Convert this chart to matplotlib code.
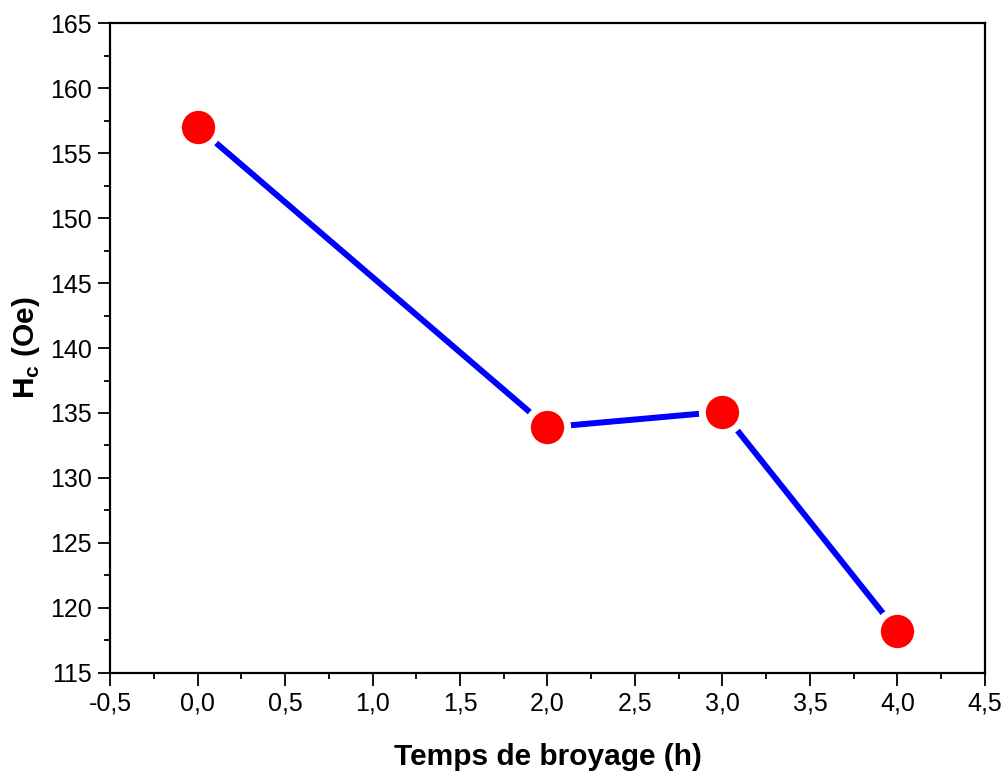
import numpy as np
import matplotlib.pyplot as plt
from matplotlib.ticker import MultipleLocator, FuncFormatter

plt.rcParams['font.family'] = ['Liberation Sans', 'DejaVu Sans']
plt.rcParams['mathtext.fontset'] = 'custom'
plt.rcParams['mathtext.bf'] = 'Liberation Sans:bold'
plt.rcParams['mathtext.rm'] = 'Liberation Sans'

temps = [0.0, 2.0, 3.0, 4.0]      # h
hc = [157.0, 133.9, 135.1, 118.2]  # Oe

fig = plt.figure(figsize=(10.03, 7.73), dpi=100)
ax = fig.add_axes([0.1097, 0.1294, 0.8723, 0.8408])

ax.plot(temps, hc, color='#0000ff', lw=4.3, marker='o', ms=29,
        mfc='#ff0000', mec='white', mew=5, zorder=3, clip_on=False)

ax.set_xlim(-0.5, 4.5)
ax.set_ylim(115, 165)
ax.xaxis.set_major_locator(MultipleLocator(0.5))
ax.xaxis.set_minor_locator(MultipleLocator(0.25))
ax.yaxis.set_major_locator(MultipleLocator(5))
ax.yaxis.set_minor_locator(MultipleLocator(2.5))
ax.xaxis.set_major_formatter(FuncFormatter(lambda v, p: f'{v:.1f}'.replace('.', ',')))
ax.yaxis.set_major_formatter(FuncFormatter(lambda v, p: f'{v:.0f}'))

for s in ax.spines.values():
    s.set_linewidth(1.6)
ax.tick_params(which='both', direction='out', top=False, right=False, width=1.3, labelsize=18)
ax.tick_params(which='major', length=9, pad=4)
ax.tick_params(which='minor', length=4.5)

ax.set_xlabel('Temps de broyage (h)', fontsize=21.5, fontweight='bold', labelpad=20)
ax.set_ylabel(r'H$_\mathbf{c}$ (Oe)', fontsize=21.5, fontweight='bold', labelpad=6)

fig.savefig('out.png', dpi=100)
